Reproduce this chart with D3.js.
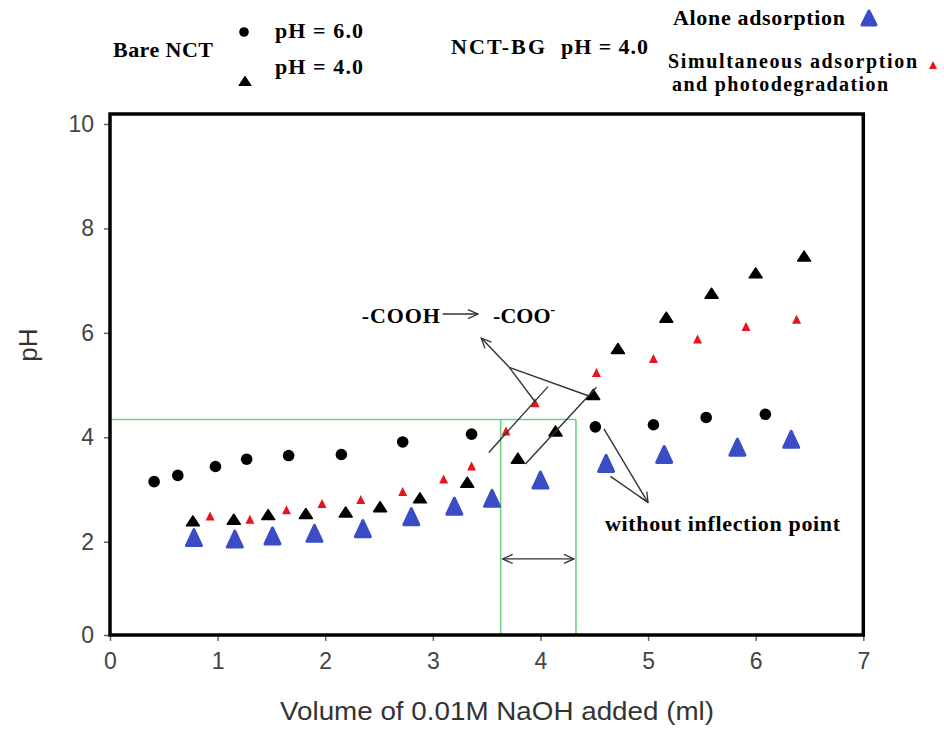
<!DOCTYPE html>
<html>
<head>
<meta charset="utf-8">
<script src="https://cdn.jsdelivr.net/npm/d3@7"></script>
<style>
  body { margin: 0; background: #fff; }
  svg { display: block; }
</style>
</head>
<body>
<svg id="chart" width="944" height="730"></svg>
<script>
// Bare NCT, initial pH 6.0 (circles)
const bare60X = [0.41, 0.63, 0.98, 1.27, 1.66, 2.15, 2.72, 3.36, 4.51, 5.05, 5.54, 6.09];
const bare60Y = [3.15, 3.27, 3.44, 3.58, 3.65, 3.67, 3.91, 4.06, 4.20, 4.24, 4.38, 4.44];

// Bare NCT, initial pH 4.0 (black triangles)
const bare40X = [0.77, 1.15, 1.47, 1.82, 2.19, 2.51, 2.88, 3.32, 3.79, 4.14, 4.49, 4.72, 5.17, 5.59, 6.00, 6.45];
const bare40Y = [2.40, 2.43, 2.52, 2.54, 2.57, 2.67, 2.84, 3.14, 3.60, 4.12, 4.82, 5.70, 6.30, 6.76, 7.15, 7.47];

// NCT-BG pH 4.0, alone adsorption (blue triangles)
const aloneX = [0.78, 1.16, 1.51, 1.90, 2.35, 2.80, 3.20, 3.55, 4.00, 4.61, 5.15, 5.83, 6.33];
const aloneY = [2.08, 2.05, 2.11, 2.16, 2.25, 2.48, 2.68, 2.83, 3.18, 3.50, 3.67, 3.81, 3.96];

// NCT-BG pH 4.0, simultaneous adsorption and photodegradation (red triangles)
const simulX = [0.93, 1.30, 1.64, 1.97, 2.33, 2.72, 3.10, 3.36, 3.68, 3.95, 4.52, 5.05, 5.46, 5.91, 6.38];
const simulY = [2.49, 2.43, 2.61, 2.73, 2.81, 2.96, 3.20, 3.45, 4.12, 4.66, 5.24, 5.51, 5.88, 6.12, 6.26];

// Axis ticks
const xTicks = [0, 1, 2, 3, 4, 5, 6, 7];
const yTicks = [0, 2, 4, 6, 8, 10];

// Equivalence region marked in green
const eqStartX = 3.63;
const eqEndX = 4.33;
const eqPH = 4.34;
const eqArrowPH = 1.63;

const svg = d3.select("#chart");
const W = 944, H = 730;
svg.append("rect").attr("width", W).attr("height", H).attr("fill", "#fff");

const left = 110, right = 863.3, bottom = 635;
const x = d3.scaleLinear().domain([0, 7]).range([left, right]);
const y = d3.scaleLinear().domain([0, 2, 10]).range([bottom, 541.7, 124]);

const serif = "'Liberation Serif', 'Times New Roman', serif";
const sans = "'Liberation Sans', Arial, sans-serif";

// arrow heads
const defs = svg.append("defs");
defs.append("marker")
  .attr("id", "arrowHead")
  .attr("viewBox", "0 0 12 12")
  .attr("refX", 11).attr("refY", 6)
  .attr("markerWidth", 12).attr("markerHeight", 12)
  .attr("markerUnits", "userSpaceOnUse")
  .attr("orient", "auto-start-reverse")
  .append("path")
  .attr("d", "M1,1.5 L11,6 L1,10.5")
  .attr("fill", "none").attr("stroke", "#333").attr("stroke-width", 1.3);

// axes
const yAxis = d3.axisLeft(y).tickValues(yTicks).tickSize(6).tickPadding(10).tickFormat(d3.format("d"));
const xAxis = d3.axisBottom(x).tickValues(xTicks).tickSize(6).tickPadding(12).tickFormat(d3.format("d"));

const gy = svg.append("g").attr("transform", `translate(${left},0)`).call(yAxis);
const gx = svg.append("g").attr("transform", `translate(0,${bottom})`).call(xAxis);
[gx, gy].forEach(g => {
  g.select(".domain").remove();
  g.selectAll(".tick line").attr("stroke", "#666").attr("stroke-width", 1.5);
  g.selectAll(".tick text").attr("fill", "#444").attr("font-family", sans).attr("font-size", 23);
});

// axis titles
svg.append("text")
  .attr("transform", `translate(37,345) rotate(-90)`)
  .attr("text-anchor", "middle")
  .attr("font-family", sans).attr("font-size", 26).attr("fill", "#333")
  .text("pH");
svg.append("text")
  .attr("x", 497).attr("y", 720)
  .attr("text-anchor", "middle")
  .attr("font-family", sans).attr("font-size", 26).attr("fill", "#333")
  .attr("textLength", 434).attr("lengthAdjust", "spacingAndGlyphs")
  .text("Volume of 0.01M NaOH added (ml)");

// green equivalence box
const green = "#6fcf82";
const gg = svg.append("g").attr("stroke", green).attr("stroke-width", 1.6).attr("fill", "none");
gg.append("line").attr("x1", x(0)).attr("x2", x(eqEndX)).attr("y1", y(eqPH)).attr("y2", y(eqPH));
gg.append("line").attr("x1", x(eqStartX)).attr("x2", x(eqStartX)).attr("y1", y(eqPH)).attr("y2", y(0));
gg.append("line").attr("x1", x(eqEndX)).attr("x2", x(eqEndX)).attr("y1", y(eqPH)).attr("y2", y(0));

svg.append("line")
  .attr("x1", x(eqStartX) + 2).attr("x2", x(eqEndX) - 2)
  .attr("y1", y(eqArrowPH)).attr("y2", y(eqArrowPH))
  .attr("stroke", "#333").attr("stroke-width", 1.3)
  .attr("marker-start", "url(#arrowHead)").attr("marker-end", "url(#arrowHead)");

// triangle path centred on its bounding box
const tri = (w, h) => `M0,${-h / 2}L${w / 2},${h / 2}L${-w / 2},${h / 2}Z`;
const zip = (xs, ys) => xs.map((v, i) => [v, ys[i]]);

// series
svg.append("g").selectAll("circle").data(zip(bare60X, bare60Y)).join("circle")
  .attr("cx", d => x(d[0])).attr("cy", d => y(d[1])).attr("r", 5.8).attr("fill", "#000");

svg.append("g").selectAll("path").data(zip(aloneX, aloneY)).join("path")
  .attr("transform", d => `translate(${x(d[0])},${y(d[1])})`)
  .attr("d", tri(15, 16))
  .attr("fill", "#3a4cc6").attr("stroke", "#3a4cc6").attr("stroke-width", 3).attr("stroke-linejoin", "round");

svg.append("g").selectAll("path").data(zip(bare40X, bare40Y)).join("path")
  .attr("transform", d => `translate(${x(d[0])},${y(d[1])})`)
  .attr("d", tri(13, 10))
  .attr("fill", "#000").attr("stroke", "#000").attr("stroke-width", 1.5).attr("stroke-linejoin", "round");

svg.append("g").selectAll("path").data(zip(simulX, simulY)).join("path")
  .attr("transform", d => `translate(${x(d[0])},${y(d[1])})`)
  .attr("d", tri(9, 9))
  .attr("fill", "#e8141c");

// annotation lines
const annLines = [
  { p: [[3.71, 5.34], [3.45, 5.90]], head: true },
  { p: [[3.71, 5.34], [3.95, 4.68]] },
  { p: [[3.71, 5.34], [4.45, 4.79]] },
  { p: [[3.52, 3.71], [4.07, 4.97]] },
  { p: [[3.86, 3.49], [4.52, 4.96]] },
  { p: [[4.59, 4.16], [5.00, 2.75]], head: true },
  { p: [[4.65, 3.25], [5.00, 2.75]] },
  { p: [[3.09, 6.36], [3.42, 6.36]], head: true }
];
svg.append("g").selectAll("line").data(annLines).join("line")
  .attr("x1", d => x(d.p[0][0])).attr("y1", d => y(d.p[0][1]))
  .attr("x2", d => x(d.p[1][0])).attr("y2", d => y(d.p[1][1]))
  .attr("stroke", "#333").attr("stroke-width", 1.4)
  .attr("marker-end", d => d.head ? "url(#arrowHead)" : null);

// annotation text
svg.append("text")
  .attr("x", x(2.34)).attr("y", y(6.19))
  .attr("font-family", serif).attr("font-weight", "bold").attr("font-size", 22)
  .attr("textLength", 78).attr("lengthAdjust", "spacing")
  .text("-COOH");
const coo = svg.append("text")
  .attr("x", x(3.56)).attr("y", y(6.19))
  .attr("font-family", serif).attr("font-weight", "bold").attr("font-size", 22);
coo.append("tspan").text("-COO");
coo.append("tspan").attr("dy", -9).attr("font-size", 14).text("-");

svg.append("text")
  .attr("x", x(4.60)).attr("y", y(2.21))
  .attr("font-family", serif).attr("font-weight", "bold").attr("font-size", 22)
  .attr("textLength", 235).attr("lengthAdjust", "spacing")
  .text("without inflection point");

// frame
svg.append("rect")
  .attr("x", left).attr("y", y(10) - 10)
  .attr("width", right - left).attr("height", bottom - (y(10) - 10))
  .attr("fill", "none").attr("stroke", "#000").attr("stroke-width", 3.5);

// legend
const legendText = [
  { t: "Bare NCT", x: 113, y: 57, w: 100, s: 22 },
  { t: "pH = 6.0", x: 275, y: 38, w: 88, s: 22 },
  { t: "pH = 4.0", x: 275, y: 74, w: 88, s: 22 },
  { t: "NCT-BG", x: 451, y: 54, w: 94, s: 22 },
  { t: "pH = 4.0", x: 561, y: 54, w: 87, s: 22 },
  { t: "Alone adsorption", x: 673, y: 25, w: 172, s: 22 },
  { t: "Simultaneous adsorption", x: 668, y: 68, w: 249, s: 20 },
  { t: "and photodegradation", x: 672, y: 91, w: 216, s: 20 }
];
svg.append("g").selectAll("text").data(legendText).join("text")
  .attr("x", d => d.x).attr("y", d => d.y)
  .attr("font-family", serif).attr("font-weight", "bold").attr("font-size", d => d.s)
  .attr("textLength", d => d.w).attr("lengthAdjust", "spacing")
  .text(d => d.t);

svg.append("circle").attr("cx", 244).attr("cy", 32).attr("r", 4.8).attr("fill", "#000");
svg.append("path").attr("transform", "translate(245,81)").attr("d", tri(12, 9))
  .attr("fill", "#000").attr("stroke", "#000").attr("stroke-width", 1.2).attr("stroke-linejoin", "round");
svg.append("path").attr("transform", "translate(869,18)").attr("d", tri(14, 14))
  .attr("fill", "#3a4cc6").attr("stroke", "#3a4cc6").attr("stroke-width", 3).attr("stroke-linejoin", "round");
svg.append("path").attr("transform", "translate(933,65)").attr("d", tri(8, 8)).attr("fill", "#e8141c");
</script>
</body>
</html>
